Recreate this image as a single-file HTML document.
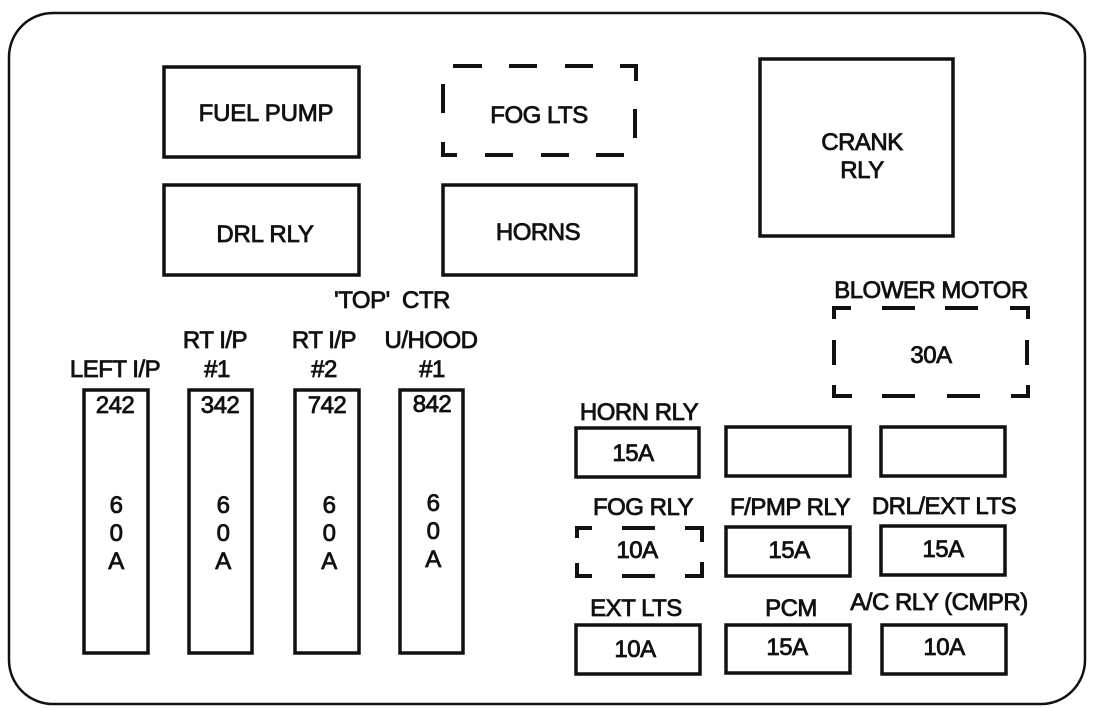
<!DOCTYPE html>
<html>
<head>
<meta charset="utf-8">
<style>
html,body{margin:0;padding:0;background:#fff;}
svg{display:block;}
text{font-family:"Liberation Sans",sans-serif;fill:#111;text-anchor:middle;font-size:24px;letter-spacing:-.5px;stroke:#111;stroke-width:.8px;}
.w{letter-spacing:-.2px;}
.b{fill:#fff;stroke:#111;stroke-width:3.5;}
.d{fill:none;stroke:#111;stroke-width:4;}
</style>
</head>
<body>
<svg width="1100" height="708" viewBox="0 0 1100 708" xmlns="http://www.w3.org/2000/svg">
<rect width="1100" height="708" fill="#fff"/>
<rect x="9" y="13" width="1076" height="691" rx="44" fill="#fff" stroke="#111" stroke-width="2.5"/>

<rect class="b" x="164" y="67" width="195" height="90"/>
<rect class="b" x="164" y="185" width="195" height="90"/>
<rect class="b" x="443" y="185" width="193" height="90"/>
<rect class="b" x="760" y="59" width="193" height="177"/>

<path class="d" d="M453 66H482M509 66H537M565 66H593M620 66H636V81M635 109V138M624 155H596M569 155H541M513 155H485M457 155H443V142M443 113V84"/>
<path class="d" d="M834 319V308H851M882 308H915M945 308H978M1010 308H1028V319M1027 340V365M1028 385V396H1011M980 396H947M915 396H882M852 396H834V385M834 365V340"/>
<path class="d" d="M577 538V528H592M622 528H655M685 528H702V542M702 562V576H685M655 576H622M592 576H577V563"/>

<rect class="b" x="84" y="390" width="64" height="263"/>
<rect class="b" x="189" y="390" width="63" height="263"/>
<rect class="b" x="295" y="390" width="64" height="263"/>
<rect class="b" x="400" y="390" width="63" height="263"/>

<rect class="b" x="576" y="428" width="123" height="49"/>
<rect class="b" x="726" y="427" width="124" height="49"/>
<rect class="b" x="881" y="427" width="124" height="49"/>
<rect class="b" x="726" y="527" width="124" height="49"/>
<rect class="b" x="881" y="526" width="124" height="49"/>
<rect class="b" x="576" y="625" width="124" height="49"/>
<rect class="b" x="726" y="625" width="124" height="48"/>
<rect class="b" x="882" y="625" width="124" height="49"/>

<text class="w" x="266" y="121">FUEL PUMP</text>
<text x="539" y="123">FOG LTS</text>
<text class="w" x="265" y="242">DRL RLY</text>
<text x="538" y="240">HORNS</text>
<text x="862" y="150">CRANK</text>
<text x="862" y="178">RLY</text>
<text x="392" y="308">'TOP'&#160;&#160;CTR</text>
<text x="931" y="298">BLOWER MOTOR</text>
<text x="931" y="363">30A</text>

<text x="115" y="377">LEFT I/P</text>
<text x="215" y="348">RT I/P</text>
<text x="217" y="377">#1</text>
<text x="324" y="348">RT I/P</text>
<text x="324" y="377">#2</text>
<text x="431" y="348">U/HOOD</text>
<text x="432" y="377">#1</text>

<text x="115" y="413">242</text>
<text x="220" y="413">342</text>
<text x="327" y="413">742</text>
<text x="432" y="412">842</text>

<text x="116" y="513">6</text><text x="116" y="541">0</text><text x="116" y="569">A</text>
<text x="223" y="513">6</text><text x="223" y="541">0</text><text x="223" y="569">A</text>
<text x="329" y="513">6</text><text x="329" y="541">0</text><text x="329" y="569">A</text>
<text x="433" y="511">6</text><text x="433" y="539">0</text><text x="433" y="567">A</text>

<text x="639" y="420">HORN RLY</text>
<text x="633" y="461">15A</text>
<text x="643" y="515">FOG RLY</text>
<text x="637" y="558">10A</text>
<text x="790" y="515">F/PMP RLY</text>
<text x="789" y="558">15A</text>
<text x="944" y="514">DRL/EXT LTS</text>
<text x="943" y="557">15A</text>
<text x="636" y="616">EXT LTS</text>
<text x="635" y="657">10A</text>
<text x="791" y="616">PCM</text>
<text x="787" y="655">15A</text>
<text x="939" y="610">A/C RLY (CMPR)</text>
<text x="944" y="655">10A</text>
</svg>
</body>
</html>
